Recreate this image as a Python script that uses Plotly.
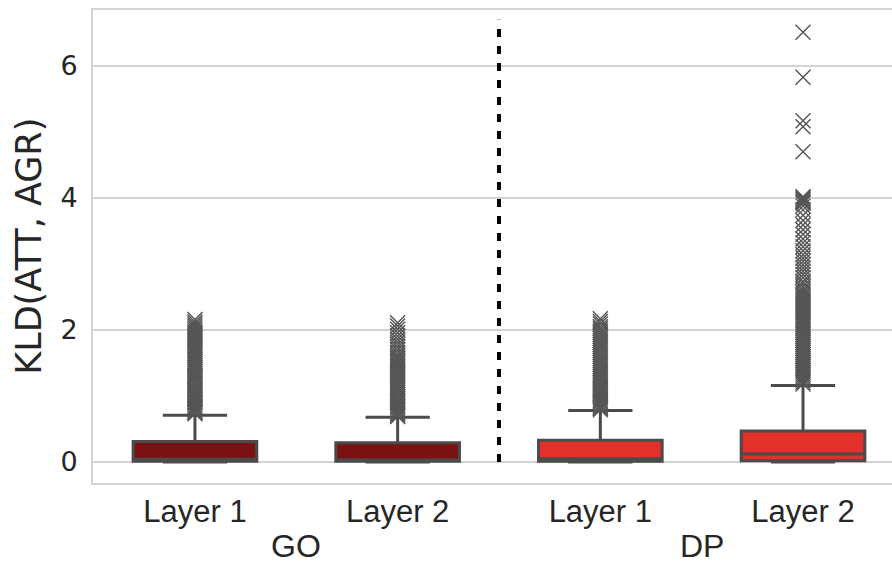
import plotly.graph_objects as go

# Categories and grouping
positions = [0, 1, 2, 3]
layer_labels = ["Layer 1", "Layer 2", "Layer 1", "Layer 2"]
group_labels = ["GO", "DP"]
group_centers = [0.5, 2.5]

# Box statistics per layer (KLD between attention and agreement)
q1 = [0.01, 0.01, 0.01, 0.02]
median = [0.04, 0.03, 0.05, 0.12]
q3 = [0.31, 0.29, 0.33, 0.47]
lower_fence = [0.0, 0.0, 0.0, 0.0]
upper_fence = [0.71, 0.68, 0.78, 1.16]

# Outlying observations per layer
go_l1_out = [0.73, 0.75, 0.77, 0.79, 0.81, 0.83, 0.85, 0.88, 0.90, 0.92, 0.95, 0.97,
             1.00, 1.02, 1.05, 1.07, 1.10, 1.12, 1.15, 1.18, 1.20, 1.23, 1.26, 1.29,
             1.31, 1.34, 1.37, 1.40, 1.43, 1.46, 1.49, 1.52, 1.55, 1.58, 1.61, 1.64,
             1.67, 1.70, 1.73, 1.76, 1.79, 1.82, 1.85, 1.88, 1.91, 1.94, 1.97, 2.00,
             2.03, 2.06, 2.09, 2.12, 2.16]
go_l2_out = [0.69, 0.71, 0.73, 0.75, 0.78, 0.80, 0.83, 0.85, 0.88, 0.91, 0.93, 0.96,
             0.99, 1.02, 1.05, 1.08, 1.11, 1.14, 1.17, 1.20, 1.23, 1.26, 1.29, 1.32,
             1.35, 1.38, 1.41, 1.44, 1.47, 1.50, 1.53, 1.56, 1.59, 1.62, 1.66, 1.70,
             1.74, 1.78, 1.82, 1.86, 1.91, 1.96, 2.01, 2.06, 2.11]
dp_l1_out = [0.79, 0.81, 0.83, 0.85, 0.87, 0.90, 0.92, 0.94, 0.97, 0.99, 1.02, 1.04,
             1.07, 1.10, 1.12, 1.15, 1.18, 1.21, 1.24, 1.27, 1.30, 1.33, 1.36, 1.39,
             1.42, 1.45, 1.48, 1.51, 1.54, 1.57, 1.60, 1.63, 1.66, 1.69, 1.72, 1.75,
             1.78, 1.81, 1.84, 1.87, 1.90, 1.93, 1.96, 1.99, 2.02, 2.05, 2.09, 2.13, 2.17]
dp_l2_out = [1.18, 1.21, 1.24, 1.27, 1.30, 1.33, 1.36, 1.39, 1.42, 1.45, 1.48, 1.51,
             1.54, 1.57, 1.60, 1.63, 1.66, 1.69, 1.72, 1.75, 1.78, 1.81, 1.84, 1.87,
             1.90, 1.93, 1.96, 1.99, 2.02, 2.05, 2.08, 2.11, 2.14, 2.17, 2.20, 2.23,
             2.26, 2.29, 2.32, 2.35, 2.38, 2.41, 2.44, 2.47, 2.50, 2.53, 2.56, 2.59,
             2.62, 2.66, 2.70, 2.74, 2.79, 2.84, 2.89, 2.94, 2.99, 3.04, 3.09, 3.14,
             3.20, 3.26, 3.32, 3.38, 3.45, 3.52, 3.59, 3.66, 3.74, 3.82, 3.88, 3.92,
             3.94, 3.96, 3.98, 4.00, 4.02, 4.70, 5.08, 5.17, 5.83, 6.51]
outliers = [go_l1_out, go_l2_out, dp_l1_out, dp_l2_out]

fill_colors = ["#7a1112", "#7a1112", "#e3302a", "#e3302a"]
edge_color = "#4b4b4b"
flier_color = "#555555"
grid_color = "#d3d3d3"
text_color = "#262626"

fig = go.Figure()

for i, pos in enumerate(positions):
    fig.add_trace(go.Box(
        x=[pos],
        q1=[q1[i]], median=[median[i]], q3=[q3[i]],
        lowerfence=[lower_fence[i]], upperfence=[upper_fence[i]],
        width=0.61,
        whiskerwidth=0.52,
        fillcolor=fill_colors[i],
        line=dict(color=edge_color, width=3),
        boxpoints=False,
        showlegend=False,
        hoverinfo="skip",
    ))

for i, pos in enumerate(positions):
    fig.add_trace(go.Scatter(
        x=[pos] * len(outliers[i]),
        y=outliers[i],
        mode="markers",
        marker=dict(symbol="x-thin-open", size=15, color=flier_color,
                    line=dict(color=flier_color, width=1.4)),
        showlegend=False,
        hoverinfo="skip",
    ))

# Dotted separator between the GO and DP groups
fig.add_shape(type="line", xref="x", yref="y",
              x0=1.5, x1=1.5, y0=0, y1=6.7,
              line=dict(color="black", width=4, dash="8px,9px"))

for name, cx in zip(group_labels, group_centers):
    fig.add_annotation(x=cx, xref="x", y=-0.176, yref="paper",
                       text=name, showarrow=False, yanchor="bottom",
                       font=dict(family="Liberation Sans, Arial", size=32, color=text_color))

fig.add_annotation(x=-0.081, xref="paper", y=0.5, yref="paper",
                   text="KLD(ATT, AGR)", textangle=-90, showarrow=False,
                   xanchor="center", yanchor="middle",
                   font=dict(family="DejaVu Sans", size=35, color=text_color))

fig.update_layout(
    width=892, height=568,
    margin=dict(l=93, r=0, t=10, b=85),
    paper_bgcolor="white", plot_bgcolor="white",
    boxmode="overlay",
    xaxis=dict(
        range=[-0.503, 3.439],
        tickvals=positions, ticktext=layer_labels,
        tickfont=dict(family="Liberation Sans, Arial", size=31, color=text_color),
        showgrid=False, zeroline=False,
        showline=True, linecolor=grid_color, linewidth=2, mirror=True,
        ticks="", ticklen=0,
    ),
    yaxis=dict(
        range=[-0.318, 6.848],
        tickvals=[0, 2, 4, 6],
        tickfont=dict(family="DejaVu Sans", size=27, color=text_color),
        showgrid=True, gridcolor=grid_color, gridwidth=2,
        zeroline=False,
        showline=True, linecolor=grid_color, linewidth=2,
        ticks="outside", ticklen=8, tickcolor="rgba(0,0,0,0)",
    ),
)

fig.write_html("out.html")
